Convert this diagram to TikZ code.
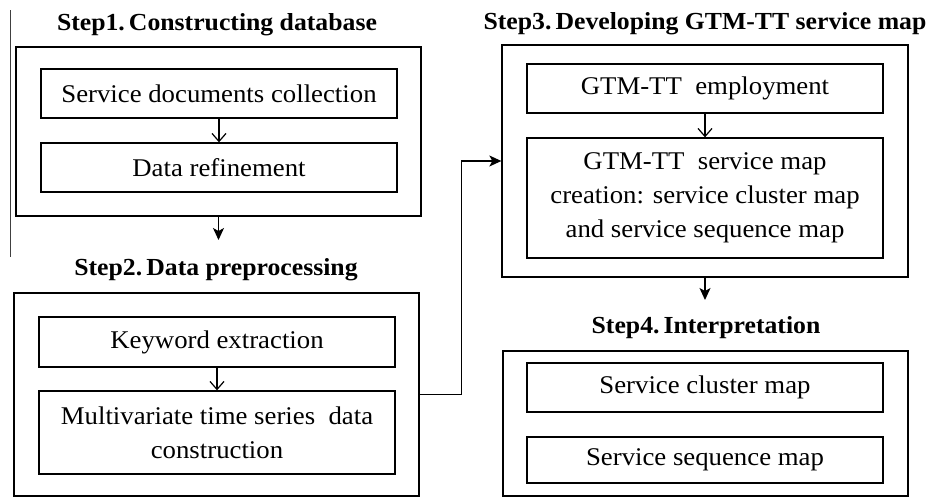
\documentclass[tikz,border=0pt]{standalone}
\usepackage{fontspec}
\setmainfont{Liberation Serif}[FakeStretch=1.05]
\usetikzlibrary{arrows.meta}
\begin{document}
\begin{tikzpicture}[x=1pt,y=-1pt,
  outerbox/.style={draw, line width=1.3pt, inner sep=0pt},
  innerbox/.style={draw, line width=1.3pt, inner sep=0pt, align=center,
    font=\fontsize{25.5}{34}\selectfont, minimum width=356pt},
  steptitle/.style={anchor=base, inner sep=0pt, font=\fontsize{24.5}{28}\selectfont\bfseries},
  openarr/.style={line width=1.2pt, -{Straight Barb[length=8pt,width=14pt,line width=1.2pt]}},
  fillarr/.style={line width=1.3pt, -{Stealth[length=12pt,width=11pt,inset=3pt]}}
]
\useasboundingbox[fill=white] (0,0) rectangle (938,498);
% stray rule at left
\draw[line width=0.8pt, black!75] (10,10) -- (10,257);

% titles
\node[steptitle] (t1) at (217,30) {Step1.\,Constructing database};
\node[steptitle] (t2) at (216,275) {Step2.\,Data preprocessing};
\node[steptitle] (t3) at (705,29) {Step3.\,Developing GTM-TT service map};
\node[steptitle] (t4) at (706,333) {Step4.\,Interpretation};

% Step 1
\node[outerbox, minimum width=405pt, minimum height=169pt] (b1) at (218.5,131.5) {};
\node[innerbox, minimum height=49pt] (i1a) at (219,93.5) {Service documents collection};
\node[innerbox, minimum height=49pt] (i1b) at (219,167.5) {Data refinement};

% Step 2
\node[outerbox, minimum width=405pt, minimum height=203pt] (b2) at (216.5,394.5) {};
\node[innerbox, minimum height=50pt] (i2a) at (217,342) {Keyword extraction};
\node[innerbox, minimum height=83pt] (i2b) at (217,432.5) {Multivariate time series\ \ data\\construction};

% Step 3
\node[outerbox, minimum width=406pt, minimum height=232pt] (b3) at (705,161) {};
\node[innerbox, minimum height=49pt] (i3a) at (705,88.5) {GTM-TT\ \ employment};
\node[innerbox, minimum height=120pt] (i3b) at (705,198) {GTM-TT\ \ service map\\creation: service cluster map\\and service sequence map};

% Step 4
\node[outerbox, minimum width=405pt, minimum height=145pt] (b4) at (705.5,423.5) {};
\node[innerbox, minimum height=49pt] (i4a) at (705,387.5) {Service cluster map};
\node[innerbox, minimum height=46pt] (i4b) at (705,460) {Service sequence map};

% inner arrows
\draw[openarr] (i1a) -- (i1b);
\draw[openarr] (i2a) -- (i2b);
\draw[openarr] (i3a) -- (i3b);

% between steps
\coordinate (e1) at (218.5,240);
\coordinate (e3) at (705,300);
\draw[fillarr] (b1.south) -- (e1);
\draw[fillarr] (b3.south) -- (e3);
\draw[fillarr] (b2.east) -- ++(42,0) |- (b3.west);
\end{tikzpicture}
\end{document}
